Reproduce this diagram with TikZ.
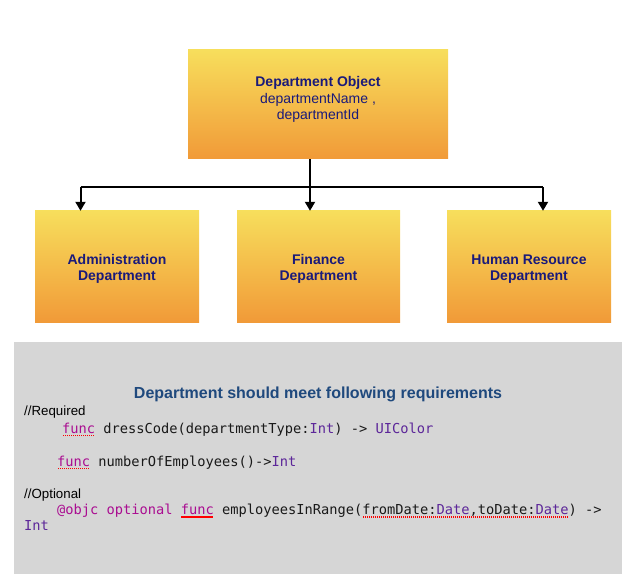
\documentclass[tikz,border=0pt]{standalone}
\usepackage{fontspec}
\setmainfont{Liberation Sans}
\setmonofont{DejaVu Sans Mono}
\usepackage{xcolor}
\usetikzlibrary{arrows.meta, positioning, calc}

\definecolor{cajaarriba}{RGB}{247,222,92}
\definecolor{cajaabajo}{RGB}{241,154,56}
\definecolor{textonodo}{RGB}{26,26,122}
\definecolor{fondogris}{RGB}{214,214,214}
\definecolor{titulo}{RGB}{31,73,125}
\definecolor{clave}{RGB}{170,13,145}
\definecolor{tipo}{RGB}{92,38,153}

% palabras del codigo
\newcommand{\kw}[1]{\textcolor{clave}{#1}}
\newcommand{\ty}[1]{\textcolor{tipo}{#1}}
\newsavebox{\cajaerror}
\newcommand{\errorlinea}[1]{\sbox{\cajaerror}{#1}\rlap{\usebox{\cajaerror}}%
	\raisebox{-3pt}{\hbox to \wd\cajaerror{\color{red}\leaders\hbox to 2pt{\hss\rule{1.2pt}{1.2pt}\hss}\hfill}}}

\begin{document}
\begin{tikzpicture}[x=1pt, y=-1pt,
		caja/.style={shading=axis, top color=cajaarriba, bottom color=cajaabajo,
			minimum height=111pt, inner sep=0pt},
		rotulo/.style={text=textonodo, align=center, inner sep=0pt,
			font=\fontsize{14}{16.5}\selectfont},
		linea/.style={line width=2pt, black},
		flecha/.style={linea, -{Triangle[width=10pt,length=9pt]}},
		comentario/.style={anchor=base west, inner sep=0pt, font=\fontsize{13.3}{16}\selectfont},
		codigo/.style={anchor=base west, inner sep=0pt, text=black!90, font=\ttfamily\fontsize{13.7}{16}\selectfont}]
	\useasboundingbox (0,0) rectangle (640,588);

	% Objeto
	\node[caja, minimum width=260pt, minimum height=109pt] (depto) at (318,104.5) {};
	\node[rotulo] (deptotexto) at (318,99.5) {\textbf{Department Object}\\departmentName ,\\departmentId};

	% Departamentos
	\node[caja, minimum width=164pt] (admin) at (117,266.5) {};
	\node[caja, minimum width=163pt] (finanzas) at (318.5,266.5) {};
	\node[caja, minimum width=164pt] (rrhh) at (529,266.5) {};
	\node[rotulo, font=\bfseries\fontsize{14}{16.5}\selectfont] (admintexto) at ([yshift=-2.5pt]admin.center) {Administration\\Department};
	\node[rotulo, font=\bfseries\fontsize{14}{16.5}\selectfont] (finanzastexto) at ([yshift=-2.5pt]finanzas.center) {Finance\\Department};
	\node[rotulo, font=\bfseries\fontsize{14}{16.5}\selectfont] (rrhhtexto) at ([yshift=-2.5pt]rrhh.center) {Human Resource\\Department};

	% Conectores
	\coordinate (rama) at (310,187.5);
	\coordinate (izq) at (80.5,187.5);
	\coordinate (der) at (543,187.5);
	\draw[linea] (depto.south -| rama) -- (rama);
	\draw[linea] (izq) -- (der);
	\draw[flecha] (izq) -- (izq |- admin.north);
	\draw[flecha] (rama) -- (rama |- finanzas.north);
	\draw[flecha] (der) -- (der |- rrhh.north);

	% Requisitos
	\node[fill=fondogris, minimum width=608pt, minimum height=232pt, inner sep=0pt] (fondo) at (318,458) {};
	\node[text=titulo, inner sep=0pt, font=\bfseries\fontsize{16}{19}\selectfont] (requisitos) at (318,394)
		{Department should meet following requirements};
	\node[comentario] (requerido) at (24,415) {//Required};
	\node[codigo] (vestido) at (62,433)
		{\errorlinea{\kw{func}} dressCode(departmentType:\ty{Int}) -> \ty{UIColor}};
	\node[codigo] (empleados) at (57,466)
		{\errorlinea{\kw{func}} numberOfEmployees()->\ty{Int}};
	\node[comentario] (opcional) at (24,498) {//Optional};
	\node[codigo] (rango) at (57,514.5)
		{\kw{@objc} \kw{optional} \errorlinea{\kw{func}} employeesInRange(\errorlinea{fromDate:\ty{Date},toDate:\ty{Date}}) ->};
	\node[codigo] (entero) at (24,530.5) {\ty{Int}};
\end{tikzpicture}
\end{document}
